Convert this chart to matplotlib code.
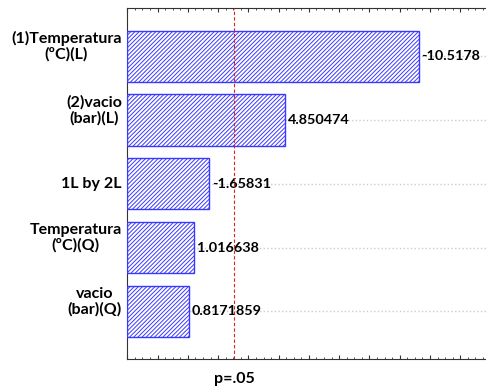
import numpy as np
import matplotlib.pyplot as plt
from matplotlib.ticker import MultipleLocator, AutoMinorLocator

plt.rcParams['font.family'] = ['Lato', 'DejaVu Sans']
plt.rcParams['hatch.linewidth'] = 0.7

# Pareto chart of standardized effects
effects = ['(1)Temperatura\n(ºC)(L)', '(2)vacio\n(bar)(L)', '1L by 2L',
           'Temperatura\n(ºC)(Q)', 'vacio\n(bar)(Q)']
values = [-10.5178, 4.850474, -1.65831, 1.016638, 0.8171859]
value_text = ['-10.5178', '4.850474', '-1.65831', '1.016638', '0.8171859']
p_crit = 2.72
axis_start = -1.80
axis_end = 13.4

fig = plt.figure(figsize=(4.86, 3.89), dpi=100)
ax = fig.add_axes([0.262, 0.0763, 0.74, 0.9024])

pos = np.arange(len(effects))
mag = np.abs(values)
# bars grow out of the left edge of the axis
ax.barh(pos, mag - axis_start, left=axis_start, height=0.8, color='white',
        edgecolor='#3a3aff', hatch='////////', linewidth=1.0, zorder=3)

for i, (v, t) in enumerate(zip(mag, value_text)):
    ax.annotate(t, xy=(v, i), xytext=(2, 0), textcoords='offset points',
                va='center', ha='left', fontsize=10.4, fontweight='bold')

# row labels, two-line ones sit a bit higher
for i, lab in enumerate(effects):
    nl = lab.count('\n')
    ax.annotate(lab, xy=(0, i), xycoords=('axes fraction', 'data'),
                xytext=(-4, 7 * nl), textcoords='offset points',
                ha='right', va='center', multialignment='center',
                fontsize=11.5, fontweight='bold', linespacing=1.1)

ax.axvline(p_crit, color='#e02020', linestyle=(0, (3, 2)), linewidth=0.8, zorder=4)
ax.annotate('p=.05', xy=(p_crit, 0), xycoords=('data', 'axes fraction'),
            xytext=(0, -14), textcoords='offset points', ha='center', va='center',
            fontsize=11.5, fontweight='bold')

ax.set_xlim(axis_start, axis_end)
ax.set_ylim(4.75, -0.75)
ax.set_yticks(pos)
ax.set_yticklabels([])
ax.grid(axis='y', color='#cccccc', linestyle=':', linewidth=1.0, zorder=0)

ax.xaxis.set_major_locator(MultipleLocator(1.279, offset=axis_start))
ax.xaxis.set_minor_locator(AutoMinorLocator(4))
ax.tick_params(axis='x', which='both', direction='in', top=True, bottom=True,
               labelbottom=False, colors='#333333')
ax.tick_params(axis='x', which='major', length=3)
ax.tick_params(axis='x', which='minor', length=1.5)
ax.tick_params(axis='y', direction='in', length=3, colors='#333333')
ax.spines['right'].set_visible(False)
for s in ['left', 'top', 'bottom']:
    ax.spines[s].set_color('#333333')

fig.savefig('out.png', dpi=100)
